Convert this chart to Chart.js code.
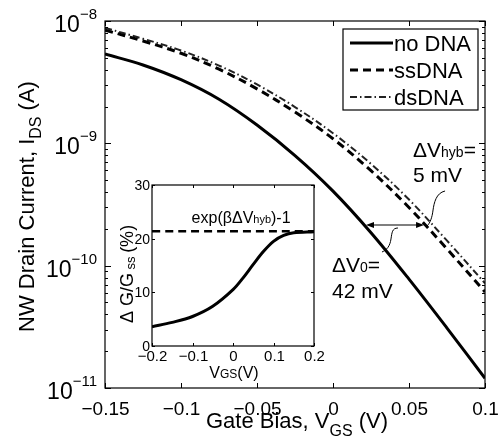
<!DOCTYPE html>
<html>
<head>
<meta charset="utf-8">
<script src="https://cdn.jsdelivr.net/npm/chart.js@4.4.1/dist/chart.umd.min.js"></script>
<style>
  body { margin: 0; background: #fff; }
  #wrap { position: relative; width: 500px; height: 442px; }
  #inset { position: absolute; left: 100px; top: 170px; }
</style>
</head>
<body>
<div id="wrap">
  <canvas id="main" width="500" height="442"></canvas>
  <canvas id="inset" width="230" height="230"></canvas>
</div>
<script>
// main plot: drain current vs gate bias (log y)
const gateBias = [-0.15, -0.125, -0.1, -0.075, -0.05, -0.025, 0, 0.025, 0.05, 0.075, 0.1]
const noDNA = [5.37e-9, 4.37e-9, 3.31e-9, 2.29e-9, 1.41e-9, 7.94e-10, 4.07e-10, 1.86e-10, 7.76e-11, 3.09e-11, 1.2e-11]
const ssDNA = [8.43e-9, 6.86e-9, 5.45e-9, 4.04e-9, 2.79e-9, 1.8e-9, 1.09e-9, 5.97e-10, 2.99e-10, 1.37e-10, 6.1e-11]
const dsDNA = [8.79e-9, 7.16e-9, 5.74e-9, 4.32e-9, 3.03e-9, 1.98e-9, 1.21e-9, 6.79e-10, 3.47e-10, 1.6e-10, 7.18e-11]
const seriesNames = ['no DNA', 'ssDNA', 'dsDNA']

const xTicks = [-0.15, -0.1, -0.05, 0, 0.05, 0.1]
const xTickLabels = ['\u22120.15', '\u22120.1', '\u22120.05', '0', '0.05', '0.1']
const yDecades = [1e-11, 1e-10, 1e-9, 1e-8]
const yTickExps = ['\u221211', '\u221210', '\u22129', '\u22128']

// annotation: arrow between no DNA and ssDNA at this current
const arrowCurrent = 2.15e-10
const arrowFrom = 0.0217
const arrowTo = 0.0599

// inset: relative conductance change vs gate bias
const insetBias = [-0.2, -0.15, -0.1, -0.05, 0, 0.025, 0.05, 0.075, 0.1, 0.125, 0.15, 0.2]
const insetChange = [3.6, 4.4, 5.5, 7.4, 10.5, 12.7, 15.2, 17.6, 19.5, 20.6, 21.1, 21.3]
const hybLevel = 21.4
const insetXTicks = [-0.2, -0.1, 0, 0.1, 0.2]
const insetXTickLabels = ['\u22120.2', '\u22120.1', '0', '0.1', '0.2']
const insetYTicks = [0, 10, 20, 30]

const FONT = '"Liberation Sans", Arial, sans-serif'

function pts(xs, ys) {
  return xs.map((v, i) => ({x: v, y: ys[i]}))
}

// draw text made of pieces [text, size, dy]
function richText(ctx, parts, x, y, align) {
  let w = 0
  for (const p of parts) { ctx.font = p[1] + 'px ' + FONT; w += ctx.measureText(p[0]).width }
  let cx = align === 'center' ? x - w / 2 : (align === 'right' ? x - w : x)
  ctx.textAlign = 'left'
  ctx.textBaseline = 'alphabetic'
  for (const p of parts) {
    ctx.font = p[1] + 'px ' + FONT
    ctx.fillText(p[0], cx, y + (p[2] || 0))
    cx += ctx.measureText(p[0]).width
  }
}

function line(ctx, x1, y1, x2, y2) {
  ctx.beginPath(); ctx.moveTo(x1, y1); ctx.lineTo(x2, y2); ctx.stroke()
}

function arrowHead(ctx, x, y, dir) {
  ctx.beginPath()
  ctx.moveTo(x, y)
  ctx.lineTo(x - dir * 8, y - 3)
  ctx.lineTo(x - dir * 8, y + 3)
  ctx.closePath()
  ctx.fill()
}

const mainAxes = {
  id: 'mainAxes',
  afterDraw(chart) {
    const {ctx, chartArea: a, scales: {x, y}} = chart
    ctx.save()
    ctx.strokeStyle = '#000'
    ctx.fillStyle = '#000'
    ctx.lineWidth = 1.2
    ctx.strokeRect(a.left, a.top, a.right - a.left, a.bottom - a.top)

    ctx.lineWidth = 1
    xTicks.forEach((v, i) => {
      const px = Math.round(x.getPixelForValue(v)) + 0.5
      line(ctx, px, a.bottom, px, a.bottom - 5)
      line(ctx, px, a.top, px, a.top + 5)
      richText(ctx, [[xTickLabels[i], 19]], px, a.bottom + 27, 'center')
    })
    yDecades.forEach((d, i) => {
      const py = Math.round(y.getPixelForValue(d)) + 0.5
      line(ctx, a.left, py, a.left + 6, py)
      line(ctx, a.right, py, a.right - 6, py)
      richText(ctx, [['10', 23], [yTickExps[i], 15, -13]], a.left - 8, py + 10, 'right')
      if (i < yDecades.length - 1) {
        for (let m = 2; m <= 9; m++) {
          const my = Math.round(y.getPixelForValue(d * m)) + 0.5
          line(ctx, a.left, my, a.left + 3, my)
          line(ctx, a.right, my, a.right - 3, my)
        }
      }
    })

    // axis titles
    richText(ctx, [['Gate Bias, V', 22], ['GS', 16, 8], [' (V)', 22]], (a.left + a.right) / 2 + 2, 428, 'center')
    ctx.save()
    ctx.translate(34, (a.top + a.bottom) / 2)
    ctx.rotate(-Math.PI / 2)
    richText(ctx, [['NW Drain Current, I', 22], ['DS', 16, 7], [' (A)', 22]], -2, 0, 'center')
    ctx.restore()

    // legend
    const lx = 343, ly = 29, lw = 135, lh = 81
    ctx.fillStyle = '#fff'
    ctx.fillRect(lx, ly, lw, lh)
    ctx.fillStyle = '#000'
    ctx.lineWidth = 1.2
    ctx.strokeRect(lx, ly, lw, lh)
    chart.data.datasets.forEach((ds, i) => {
      const yy = ly + 14 + i * 27
      ctx.save()
      ctx.strokeStyle = ds.borderColor
      ctx.lineWidth = ds.borderWidth
      ctx.setLineDash(ds.borderDash || [])
      line(ctx, lx + 7, yy, lx + 50, yy)
      ctx.restore()
      richText(ctx, [[ds.label, 22]], lx + 51, yy + 8, 'left')
    })

    // arrow between curves
    const ay = y.getPixelForValue(arrowCurrent)
    const ax1 = x.getPixelForValue(arrowFrom)
    const ax2 = x.getPixelForValue(arrowTo)
    ctx.lineWidth = 1.2
    line(ctx, ax1 + 4, ay, ax2 - 4, ay)
    arrowHead(ctx, ax1, ay, -1)
    arrowHead(ctx, ax2, ay, 1)

    // leaders
    ctx.lineWidth = 1
    ctx.beginPath()
    ctx.moveTo(ax2 + 21, ay - 34)
    ctx.bezierCurveTo(ax2 + 12, ay - 32, ax2 + 10, ay - 22, ax2 + 9, ay - 15)
    ctx.bezierCurveTo(ax2 + 8, ay - 7, ax2 + 6, ay - 2, ax2 + 3, ay + 1)
    ctx.stroke()
    ctx.beginPath()
    ctx.moveTo(ax1 + 32, ay + 3)
    ctx.bezierCurveTo(ax1 + 26, ay + 3, ax1 + 26, ay + 8, ax1 + 25, ay + 14)
    ctx.bezierCurveTo(ax1 + 24, ay + 21, ax1 + 21, ay + 25, ax1 + 16, ay + 27)
    ctx.stroke()

    // labels
    richText(ctx, [['\u0394V', 21], ['hyb', 14], ['=', 21]], ax2 - 11, ay - 68, 'left')
    richText(ctx, [['5 mV', 21]], ax2 - 11, ay - 43, 'left')
    richText(ctx, [['\u0394V', 21], ['0', 14], ['=', 21]], ax1 - 34, ay + 47, 'left')
    richText(ctx, [['42 mV', 21]], ax1 - 34, ay + 73, 'left')
    ctx.restore()
  }
}

new Chart(document.getElementById('main'), {
  type: 'line',
  data: {
    datasets: [
      { label: seriesNames[0], data: pts(gateBias, noDNA), borderColor: '#000', borderWidth: 3 },
      { label: seriesNames[1], data: pts(gateBias, ssDNA), borderColor: '#000', borderWidth: 3, borderDash: [8, 5] },
      { label: seriesNames[2], data: pts(gateBias, dsDNA), borderColor: '#222', borderWidth: 2, borderDash: [7, 3, 1.5, 3] }
    ]
  },
  options: {
    responsive: false,
    animation: false,
    layout: { padding: { left: 105, top: 21, right: 15, bottom: 54 } },
    elements: { point: { radius: 0 }, line: { tension: 0.35 } },
    plugins: { legend: { display: false }, tooltip: { enabled: false } },
    scales: {
      x: { type: 'linear', min: -0.15, max: 0.1, display: false },
      y: { type: 'logarithmic', min: 1e-11, max: 1e-8, display: false }
    }
  },
  plugins: [mainAxes]
})

const insetAxes = {
  id: 'insetAxes',
  afterDraw(chart) {
    const {ctx, chartArea: a, scales: {x, y}} = chart
    ctx.save()
    ctx.strokeStyle = '#000'
    ctx.fillStyle = '#000'
    ctx.lineWidth = 1.2
    ctx.strokeRect(a.left, a.top, a.right - a.left, a.bottom - a.top)
    ctx.lineWidth = 1
    insetXTicks.forEach((v, i) => {
      const px = Math.round(x.getPixelForValue(v)) + 0.5
      line(ctx, px, a.bottom, px, a.bottom - 3)
      line(ctx, px, a.top, px, a.top + 3)
      richText(ctx, [[insetXTickLabels[i], 15]], px, a.bottom + 15, 'center')
    })
    insetYTicks.forEach(v => {
      const py = Math.round(y.getPixelForValue(v)) + 0.5
      line(ctx, a.left, py, a.left + 3, py)
      line(ctx, a.right, py, a.right - 3, py)
      richText(ctx, [[String(v), 14]], a.left - 2, py + 4, 'right')
    })
    richText(ctx, [['V', 16], ['GS', 12], ['(V)', 16]], (a.left + a.right) / 2 + 1, a.bottom + 32, 'center')
    ctx.save()
    ctx.translate(33, 104)
    ctx.rotate(-Math.PI / 2)
    richText(ctx, [['\u0394 G/G', 18], [' ss ', 13, 2], ['(%)', 18]], 0, 0, 'center')
    ctx.restore()
    const hy = y.getPixelForValue(hybLevel)
    richText(ctx, [['exp(\u03b2\u0394V', 16], ['hyb', 11], [')-1', 16]], x.getPixelForValue(0.02), hy - 8, 'center')
    ctx.restore()
  }
}

new Chart(document.getElementById('inset'), {
  type: 'line',
  data: {
    datasets: [
      { data: pts(insetBias, insetChange), borderColor: '#000', borderWidth: 3 },
      { data: pts([-0.2, 0.2], [hybLevel, hybLevel]), borderColor: '#000', borderWidth: 2.5, borderDash: [8, 5] }
    ]
  },
  options: {
    responsive: false,
    animation: false,
    layout: { padding: { left: 52, top: 15, right: 16, bottom: 54 } },
    elements: { point: { radius: 0 }, line: { tension: 0.35 } },
    plugins: { legend: { display: false }, tooltip: { enabled: false } },
    scales: {
      x: { type: 'linear', min: -0.2, max: 0.2, display: false },
      y: { type: 'linear', min: 0, max: 30, display: false }
    }
  },
  plugins: [insetAxes]
})
</script>
</body>
</html>
